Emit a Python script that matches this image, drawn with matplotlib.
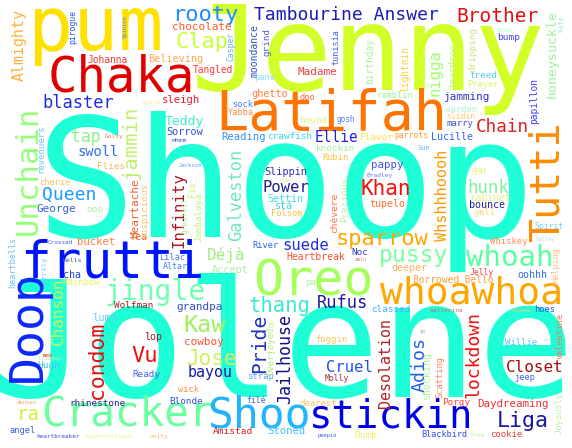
import matplotlib
matplotlib.use("Agg")
import matplotlib.pyplot as plt

# word cloud: words and their drawn size (px)
words = [
    "Shoop", "Jolene", "Jenny", "pum", "Chaka", "Latifah", "frutti", "Oreo",
    "whoawhoa", "Cracker", "stickin", "Shoo", "whoah", "pussy", "jingle", "sparrow",
    "Khan", "Brother", "Tambourine Answer", "rooty", "Clap", "chocolate", "Believing", "Johanna",
    "Tangled", "Madame", "pane", "ghetto", "doo", "sock", "Yabba", "hound",
    "gosh", "Reading", "crawfish", "Ellie", "knockin", "Rubin", "Flavor", "parrots",
    "Lucille", "Sue", "Chain", "marry", "slidin", "warden", "jamming", "ramblin",
    "Prayer", "treed", "Bitch", "bump", "Teddy", "sleigh", "Sorrow", "mhmm",
    "Quite", "Golly", "blaster", "tap", "swoll", "Flies", "cherie", "Queen",
    "George", "ooo", "Yea", "Jackson", "bucket", "Crossed", "Kells", "Lilac",
    "Altar", "cha", "Rainbow", "Slippin", "rider", "Power", "Settin", "stá",
    "Folsom", "pappy", "Bradley", "tupelo", "suede", "River", "Déjà", "Heartbreak",
    "Noc", "amlo", "Accept", "pa", "hunk", "HMM", "cabinet", "bounce",
    "yell", "Spirit", "Valley", "Whiskey", "deeper", "Jelly", "oohhh", "Borrowed Bello",
    "Wolfman", "grandpa", "luma", "lop", "Vu", "cowboy", "Kaw", "Jose",
    "bayou", "Ready", "mem", "lineman", "Hugh", "wick", "Blonde", "denies",
    "rhinestone", "ra", "angel", "heartbreaker", "superstitious", "unity", "thang", "Rufus",
    "classed", "foggin", "Cruel", "strap", "Molly", "filé", "dearest", "Amistad",
    "Stoned", "peepin", "Dumb", "ballerina", "Yvonne", "hoes", "yo", "Willie",
    "Closet", "jeep", "Porgy", "Daydreaming", "Liga", "Blackbird", "Tree", "cookie",
    "Almighty", "pirogue", "Opinion", "honeysuckle", "Fate", "nigga", "lightnin", "teardrop",
    "dripping", "papillon", "Casper", "moondance", "grind", "tunisia", "birthday", "Unchain",
    "jammin", "revenuers", "Heartache", "suspicious", "Infinity", "Fix", "greatest", "Jambalaya",
    "heartbells", "merrily", "Chanson", "Doop", "Galveston", "Precious", "chèvere", "Whshhhoooh",
    "Tutti", "Helping", "condom", "Pride", "Ol", "Overjoyed", "Jailhouse", "Desolation",
    "valentine", "lockdown", "Adios", "shocking", "Scatting", "Joyously",
]
word_px = [
    166, 162, 118, 75, 49, 55, 51, 50,
    38, 41, 39, 43, 29, 23, 28, 22,
    21, 19.5, 18, 22, 22, 11, 10.3, 9.7,
    9.7, 11, 8.7, 10.3, 8.8, 8.7, 8.6, 9.3,
    7.8, 10.5, 9.4, 14.5, 9.3, 8.6, 9.4, 8,
    10, 7, 17.6, 9, 8, 9, 11, 8.8,
    8.6, 9.3, 5.5, 9.5, 13, 10.6, 10.3, 6.5,
    6, 6.2, 17, 16.5, 13.8, 9.3, 8.6, 18,
    11, 9.5, 10, 5.6, 10.6, 6, 6.5, 8.6,
    8.3, 10, 9, 10.2, 4.5, 15.5, 10, 10,
    8.6, 10.7, 6.3, 10, 15.5, 8.6, 16, 9.8,
    9.4, 5, 10.3, 9, 17.4, 8, 9.7, 10,
    8.7, 8, 5.4, 9, 10, 8, 10, 9.6,
    9.3, 11, 10.4, 10, 22, 11, 23.5, 21,
    15, 9.3, 5.5, 6, 9.5, 8.7, 9.4, 5.7,
    9.3, 19, 8.6, 6, 6.2, 6.2, 20.7, 17,
    9.3, 9, 15.5, 9, 8, 8, 9, 9.5,
    10.6, 5.4, 9.5, 6.2, 5.7, 8.7, 5, 9,
    16, 8.7, 9.3, 10.9, 21.7, 8.5, 6.5, 9,
    15, 8, 5.5, 13.3, 7, 15.5, 9.6, 9.4,
    9.4, 9.6, 8, 9.8, 9.3, 8.5, 9.6, 30.7,
    20.5, 9, 11, 9.3, 15.7, 8.8, 7.7, 9.2,
    8.5, 7.3, 16, 46.5, 17, 9.4, 9.5, 15.2,
    40, 8.5, 21.4, 19.6, 7, 9, 16.6, 15,
    8.5, 18, 18.3, 10, 8.7, 8.7,
]

# layout: (x, y) of baseline middle in pixels, vertical flag, colour
layout = {
    "Shoop": (285.5, 237, 0, "#1effd8"), "Jolene": (283, 397, 0, "#1effd8"),
    "Jenny": (368, 90, 0, "#d2ff28"), "pum": (96, 50, 0, "#ffe100"),
    "Chaka": (121, 92, 0, "#e00000"), "Latifah": (331, 130, 0, "#ff7300"),
    "frutti": (112, 278, 0, "#0013ff"), "Oreo": (313, 295, 0, "#a4ff58"),
    "whoawhoa": (472, 303, 0, "#ffa500"), "Cracker": (127, 426, 0, "#6cffa0"),
    "stickin": (391, 428, 0, "#0000e6"), "Shoo": (259, 428, 0, "#22b5ff"),
    "whoah": (510, 266, 0, "#5aff9f"), "pussy": (414, 262, 0, "#7dffa0"),
    "jingle": (155, 300, 0, "#70ffb0"), "sparrow": (382, 245, 0, "#ffa500"),
    "Khan": (386, 195, 0, "#f01010"), "Brother": (497, 22, 0, "#e01010"),
    "Tambourine Answer": (346, 20, 0, "#1c1cb4"), "rooty": (205, 21, 0, "#1e8cff"),
    "Clap": (202, 48, 0, "#c8ff3c"), "chocolate": (202, 30, 0, "#ff5a28"),
    "Believing": (175.5, 62, 0, "#ffa64d"), "Johanna": (108, 63, 0, "#f03c28"),
    "Tangled": (213, 73, 0, "#ff3b30"), "Madame": (317.5, 75, 0, "#f04040"),
    "pane": (265, 80, 0, "#90d8ff"), "ghetto": (270, 97, 0, "#ff8040"),
    "doo": (307.5, 100, 0, "#ff6040"), "sock": (243, 107, 0, "#4080ff"),
    "Yabba": (240.5, 115, 0, "#ff9040"), "hound": (313.5, 123, 0, "#e0f080"),
    "gosh": (346, 122, 0, "#5080ff"), "Reading": (243.5, 140, 0, "#3090ff"),
    "crawfish": (290, 139, 0, "#30d8e8"), "Ellie": (336, 142, 0, "#2020e0"),
    "knockin": (336, 151, 0, "#a8f0a0"), "Rubin": (335.5, 160, 0, "#ffc040"),
    "Flavor": (376.5, 140, 0, "#ffe040"), "parrots": (411.5, 138, 0, "#ffa030"),
    "Lucille": (452.5, 140, 0, "#3060ff"), "Sue": (424, 150, 0, "#60c0ff"),
    "Chain": (502.5, 132, 0, "#e02020"), "marry": (460, 126, 0, "#4050e0"),
    "slidin": (461, 119, 0, "#ffc870"), "warden": (461, 112, 0, "#b0f0d0"),
    "jamming": (467.5, 100, 0, "#3030c8"), "ramblin": (395, 98, 0, "#a0f0a0"),
    "Prayer": (483, 87, 0, "#e0f070"), "treed": (483.5, 78, 0, "#50d0f0"),
    "Bitch": (505, 32, 0, "#a0ffc0"), "bump": (509, 40, 0, "#4040ff"),
    "Teddy": (184, 125, 0, "#3cf0c8"), "sleigh": (181.5, 103, 0, "#e02030"),
    "Sorrow": (185, 135, 0, "#3050e0"), "mhmm": (179.5, 142, 0, "#3050c0"),
    "Quite": (151.5, 103, 0, "#f0f080"), "Golly": (114, 138, 0, "#f07050"),
    "blaster": (78, 108, 0, "#1a30e0"), "tap": (86, 142, 0, "#90f090"),
    "swoll": (98, 156, 0, "#3070f0"), "Flies": (111.5, 169, 0, "#ffb060"),
    "cherie": (55, 185, 0, "#ffc060"), "Queen": (69, 200, 0, "#1e9bff"),
    "George": (56, 212, 0, "#3060e0"), "ooo": (95, 212, 0, "#b0f0a0"),
    "Yea": (138.5, 240, 0, "#ff6020"), "Jackson": (190, 167, 0, "#60a0ff"),
    "bucket": (96.5, 245, 0, "#ff8040"), "Crossed": (60.5, 244, 0, "#4060e0"),
    "Kells": (72.5, 262, 0, "#3050c0"), "Lilac": (172.5, 260, 0, "#5070ff"),
    "Altar": (175, 269, 0, "#4080ff"), "cha": (71.5, 278, 0, "#2040d0"),
    "Rainbow": (81.5, 285, 0, "#f0f060"), "Slippin": (286, 175, 0, "#3030b0"),
    "rider": (286.5, 182, 0, "#f0e080"), "Power": (285.5, 192, 0, "#202090"),
    "Settin": (285.5, 202, 0, "#40e0f0"), "stá": (283.5, 209, 0, "#40d0e0"),
    "Folsom": (287, 216, 0, "#ffc040"), "pappy": (387.5, 168, 0, "#4050e0"),
    "Bradley": (380, 177, 0, "#6080ff"), "tupelo": (387.5, 207, 0, "#ff7030"),
    "suede": (305.5, 250, 0, "#2030e0"), "River": (265.5, 248, 0, "#3060f0"),
    "Déjà": (226.5, 260, 0, "#a0f080"), "Heartbreak": (316, 260, 0, "#ff5030"),
    "Noc": (360, 255, 0, "#3040c0"), "amlo": (360.5, 261, 0, "#e08080"),
    "Accept": (230, 273, 0, "#b0f0a0"), "pa": (310, 285, 0, "#b0f0a0"),
    "hunk": (488, 193, 0, "#80f0a0"), "HMM": (478.5, 175, 0, "#e8f080"),
    "cabinet": (490, 201, 0, "#e0f080"), "bounce": (487.5, 208, 0, "#2020a0"),
    "yell": (485, 215, 0, "#ffd060"), "Spirit": (549, 229, 0, "#70d0ff"),
    "Valley": (546, 241, 0, "#a0e0ff"), "Whiskey": (508.5, 244, 0, "#ff9050"),
    "deeper": (409.5, 271, 0, "#ffb060"), "Jelly": (481.5, 275, 0, "#f04040"),
    "oohhh": (532.5, 278, 0, "#3070f0"), "Borrowed Bello": (453, 283, 0, "#ffa040"),
    "Wolfman": (134, 308, 0, "#a02020"), "grandpa": (200, 310, 0, "#3050c0"),
    "luma": (105, 321, 0, "#60d0f0"), "lop": (153.5, 340, 0, "#902020"),
    "Vu": (145, 362, 0, "#f01010"), "cowboy": (204, 345, 0, "#ff5030"),
    "Kaw": (205, 332, 0, "#a0f060"), "Jose": (212.5, 365, 0, "#d0f060"),
    "bayou": (210, 377, 0, "#1a1aa0"), "Ready": (146.5, 377, 0, "#4060f0"),
    "mem": (47.5, 357, 0, "#e04040"), "lineman": (50.5, 360, 0, "#b0f0a0"),
    "Hugh": (49, 368, 0, "#40c0ff"), "wick": (188, 392, 0, "#ff9040"),
    "Blonde": (186.5, 404, 0, "#3050e0"), "denies": (27, 404, 0, "#ffa060"),
    "rhinestone": (97.5, 406, 0, "#202090"), "ra": (28, 420, 0, "#d0f040"),
    "angel": (22.5, 433, 0, "#3060e0"), "heartbreaker": (58.5, 438, 0, "#3050d0"),
    "superstitious": (109, 438, 0, "#f0f080"), "unity": (159, 438, 0, "#ffb060"),
    "thang": (280, 312, 0, "#40e8d0"), "Rufus": (343, 308, 0, "#1a1aa0"),
    "classed": (391, 312, 0, "#40b0ff"), "foggin": (331, 342, 0, "#ffc060"),
    "Cruel": (349.5, 372, 0, "#2050f0"), "strap": (260, 379, 0, "#60a0ff"),
    "Molly": (336.5, 381, 0, "#a03030"), "filé": (256, 403, 0, "#4060c0"),
    "dearest": (318.5, 406, 0, "#ffc060"), "Amistad": (232.5, 434, 0, "#e02020"),
    "Stoned": (286.5, 434, 0, "#40c0ff"), "peepin": (327.5, 437, 0, "#4060e0"),
    "Dumb": (366, 438, 0, "#f0f060"), "ballerina": (446.5, 312, 0, "#d06060"),
    "Yvonne": (522, 312, 0, "#ffc080"), "hoes": (545, 312, 0, "#3050e0"),
    "yo": (422.5, 333, 0, "#c08080"), "Willie": (521, 345, 0, "#60c0ff"),
    "Closet": (535, 372, 0, "#a01010"), "jeep": (525, 380, 0, "#4060f0"),
    "Porgy": (456.5, 405, 0, "#ff4040"), "Daydreaming": (512.5, 407, 0, "#f03030"),
    "Liga": (523, 427, 0, "#1a1aa0"), "Blackbird": (444.5, 437, 0, "#3050e0"),
    "Tree": (477.5, 437, 0, "#c0f0a0"), "cookie": (506, 437, 0, "#f04040"),
    # vertical words: x is the baseline, y the middle
    "Almighty": (24, 45, 1, "#ffb040"), "pirogue": (75, 26.5, 1, "#3050ff"),
    "Opinion": (127, 27, 1, "#4080ff"), "honeysuckle": (556, 53.5, 1, "#a0f0a0"),
    "Fate": (563, 23.5, 1, "#a0e8e0"), "nigga": (440, 72.5, 1, "#9cff70"),
    "lightnin": (408, 69.5, 1, "#ffd040"), "teardrop": (455, 65, 1, "#c8f070"),
    "dripping": (476, 50, 1, "#d0e080"), "papillon": (537, 100.5, 1, "#4040ff"),
    "Casper": (233, 46, 1, "#60b0ff"), "moondance": (258, 51, 1, "#3050d0"),
    "grind": (270, 41.5, 1, "#5060e0"), "tunisia": (338, 47.5, 1, "#4060e0"),
    "birthday": (373, 60.5, 1, "#b0f0a0"), "Unchain": (37, 170, 1, "#96ff78"),
    "jammin": (136, 142.5, 1, "#c0f070"), "revenuers": (43, 149, 1, "#70c0ff"),
    "Heartache": (138, 208.5, 1, "#f06030"), "suspicious": (147, 210.5, 1, "#ffc070"),
    "Infinity": (184, 210, 1, "#b01020"), "Fix": (195, 189.5, 1, "#e0f060"),
    "greatest": (187, 215, 1, "#c0f0a0"), "Jambalaya": (202, 217.5, 1, "#c0f080"),
    "heartbells": (15, 262, 1, "#70c0ff"), "merrily": (47, 272, 1, "#80c0ff"),
    "Chanson": (63, 311.5, 1, "#d0f050"), "Doop": (41, 326.5, 1, "#0a28ff"),
    "Galveston": (241, 195, 1, "#70e8b8"), "Precious": (347, 200, 1, "#c0f0a0"),
    "chèvere": (337, 212.5, 1, "#ff7040"), "Whshhhoooh": (447, 195, 1, "#ff9a00"),
    "Tutti": (559, 181.5, 1, "#ff8c00"), "Helping": (558, 265.5, 1, "#ffc080"),
    "condom": (103, 360.5, 1, "#e01010"), "Pride": (265, 343.5, 1, "#2030c0"),
    "Ol": (275, 323, 1, "#b0f080"), "Overjoyed": (273, 351, 1, "#b0f080"),
    "Jailhouse": (290, 359, 1, "#101090"), "Desolation": (390, 363.5, 1, "#b02020"),
    "valentine": (563, 335.5, 1, "#ff7050"), "lockdown": (479, 354.5, 1, "#f01010"),
    "Adios": (425, 364, 1, "#2060f0"), "shocking": (430, 376.5, 1, "#b0f0a0"),
    "Scatting": (442, 377.5, 1, "#ff8060"), "Joyously": (562, 412.5, 1, "#c0f0a0"),
}

W, H, DPI = 572, 448, 100

fig = plt.figure(figsize=(W / DPI, H / DPI), dpi=DPI)
ax = fig.add_axes([0, 0, 1, 1])
ax.set_xlim(0, W)
ax.set_ylim(H, 0)
ax.axis("off")

for word, px in zip(words, word_px):
    x, y, vertical, color = layout[word]
    ax.text(x, y, word, fontsize=px * 72 / DPI, family="DejaVu Sans Mono",
            color=color, ha="center", va="baseline",
            rotation=90 if vertical else 0, rotation_mode="anchor")

fig.savefig("out.png", dpi=DPI, facecolor="white")
